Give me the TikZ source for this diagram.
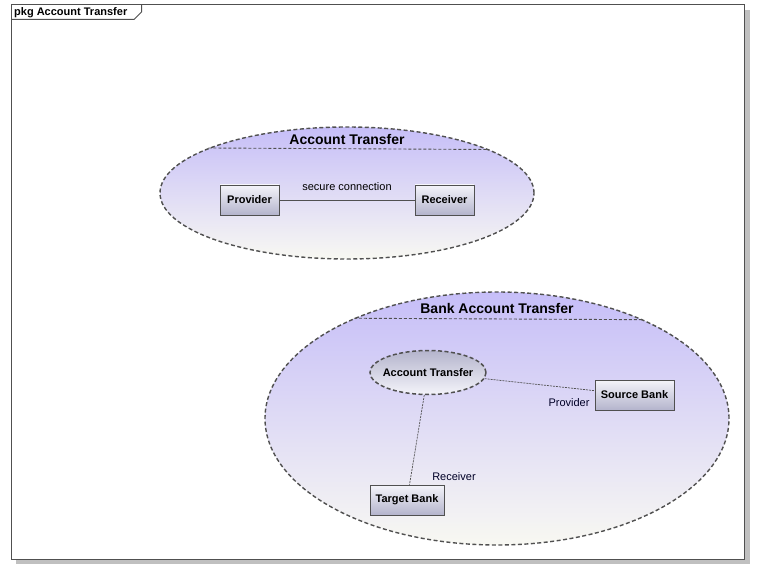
\documentclass[tikz,border=0pt]{standalone}
\usepackage{fontspec}
\setmainfont{Liberation Sans}
\usetikzlibrary{shapes.geometric}

\definecolor{framegray}{HTML}{505050}
\definecolor{shadowgray}{HTML}{C0C0C0}
\definecolor{lavtop}{HTML}{C6BEF8}
\definecolor{lavbot}{HTML}{F8F8F2}
\definecolor{boxtop}{HTML}{F4F4FA}
\definecolor{boxbot}{HTML}{B4B4CC}

\tikzset{
  usecase/.style={ellipse, draw=framegray, line width=1.4pt, dash pattern=on 4pt off 2.5pt,
    top color=lavtop, bottom color=lavbot, inner sep=0pt},
  part/.style={draw=framegray, line width=0.8pt, top color=boxtop, bottom color=boxbot,
    font=\fontsize{11}{13}\selectfont\bfseries, inner sep=0pt},
  chord/.style={draw=framegray, line width=0.9pt, dash pattern=on 3pt off 2pt},
  role/.style={draw=framegray, line width=0.7pt, dash pattern=on 2pt off 1pt},
  lbl/.style={font=\fontsize{11}{13}\selectfont, text=black, inner sep=0pt}
}

\begin{document}
\begin{tikzpicture}[x=1pt,y=-1pt]
		\useasboundingbox (0,0) rectangle (771,580);
		\fill[shadowgray] (16,10) rectangle (750,564);
		\draw[framegray, fill=white, line width=1pt] (11,5) rectangle (744,559);
		% package tab
		\draw[framegray, line width=1pt] (11,19.5) -- (134,19.5) -- (141.5,12) -- (141.5,5);
		\node[lbl, font=\fontsize{11}{13}\selectfont\bfseries, anchor=west] (pkg) at (14,12.5) {pkg Account Transfer};

		% collaboration Account Transfer
		\node[usecase, minimum width=374pt, minimum height=132pt] (at) at (347,193) {};
		\draw[chord] (at.162.4) -- (at.17.6);
		\node[lbl, font=\fontsize{14}{16}\selectfont\bfseries] (attitle) at (347,139) {Account Transfer};
		\node[part, minimum width=59pt, minimum height=30pt] (prov) at (249.5,200) {Provider};
		\node[part, minimum width=59pt, minimum height=30pt] (recv) at (444.5,200) {Receiver};
		\draw[framegray, line width=0.7pt] (prov) -- (recv);
		\node[lbl] (secure) at (347,187) {secure connection};

		% collaboration Bank Account Transfer
		\node[usecase, minimum width=464pt, minimum height=253pt] (bat) at (497,418.5) {};
		\draw[chord] (bat.145.3) -- (bat.34.7);
		\node[lbl, font=\fontsize{14}{16}\selectfont\bfseries] (battitle) at (497,308) {Bank Account Transfer};
		\node[ellipse, draw=framegray, line width=1.5pt, dash pattern=on 4pt off 2.5pt,
			top color=boxbot, bottom color=boxtop, inner sep=0pt,
			minimum width=116pt, minimum height=44pt] (acct) at (428,372.5) {};
		\node[lbl, font=\fontsize{11}{13}\selectfont\bfseries] (acctlbl) at (acct.center) {Account Transfer};
		\node[part, minimum width=79pt, minimum height=30pt] (src) at (634.5,395) {Source Bank};
		\node[part, minimum width=74pt, minimum height=30pt] (tgt) at (407,500) {Target Bank};
		\draw[role] (acct) -- (src);
		\draw[role] (acct) -- (tgt);
		\node[lbl, text=black!85!blue] (lprov) at (569,403) {Provider};
		\node[lbl, text=black!85!blue] (lrecv) at (454,477) {Receiver};
	\end{tikzpicture}
\end{document}
